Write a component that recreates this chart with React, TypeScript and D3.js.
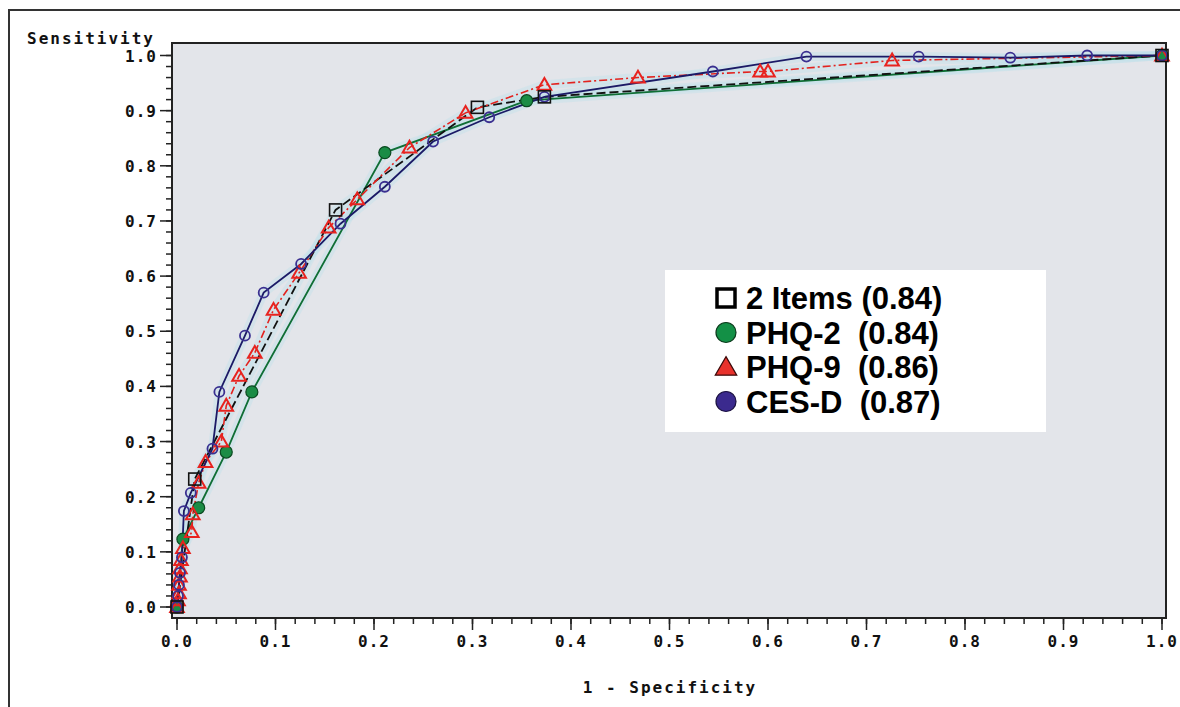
import React from "react";
import * as d3 from "d3";

const xTicks = [0, 0.1, 0.2, 0.3, 0.4, 0.5, 0.6, 0.7, 0.8, 0.9, 1.0];
const yTicks = [0, 0.1, 0.2, 0.3, 0.4, 0.5, 0.6, 0.7, 0.8, 0.9, 1.0];

const items2X = [0, 0.018, 0.161, 0.305, 0.373, 1.0];
const items2Y = [0, 0.232, 0.72, 0.906, 0.925, 1.0];

const phq2X = [0, 0.006, 0.022, 0.05, 0.076, 0.211, 0.355, 1.0];
const phq2Y = [0, 0.123, 0.18, 0.281, 0.39, 0.824, 0.918, 1.0];

const phq9X = [0, 0.001, 0.002, 0.002, 0.003, 0.003, 0.004, 0.006, 0.015, 0.016, 0.022, 0.029, 0.045, 0.05, 0.063, 0.079, 0.098, 0.124, 0.154, 0.183, 0.236, 0.293, 0.373, 0.468, 0.592, 0.6, 0.726, 1.0];
const phq9Y = [0, 0.012, 0.025, 0.04, 0.055, 0.07, 0.085, 0.107, 0.136, 0.168, 0.225, 0.263, 0.3, 0.365, 0.419, 0.461, 0.539, 0.606, 0.688, 0.739, 0.833, 0.896, 0.947, 0.96, 0.971, 0.971, 0.991, 1.0];

const cesdX = [0, 0.001, 0.002, 0.003, 0.005, 0.007, 0.014, 0.036, 0.043, 0.069, 0.088, 0.126, 0.166, 0.211, 0.26, 0.317, 0.373, 0.544, 0.639, 0.753, 0.846, 0.924, 1.0];
const cesdY = [0, 0.02, 0.04, 0.062, 0.09, 0.174, 0.207, 0.287, 0.39, 0.492, 0.57, 0.622, 0.695, 0.762, 0.844, 0.888, 0.925, 0.971, 0.998, 0.998, 0.996, 1.0, 1.0];

const legendLabels = ["2 Items (0.84)", "PHQ-2  (0.84)", "PHQ-9  (0.86)", "CES-D  (0.87)"];

const W = 1180, H = 707;
const plotL = 172, plotR = 1166, plotT = 43, plotB = 618;

export default function App() {
  const x = d3.scaleLinear().domain([0, 1]).range([177, 1162]);
  const y = d3.scaleLinear().domain([0, 1]).range([607, 55.5]);
  const line = d3.line<[number, number]>().x(d => x(d[0])).y(d => y(d[1]));
  const zip = (a: number[], b: number[]) => a.map((v, i) => [v, b[i]] as [number, number]);

  const items2 = zip(items2X, items2Y);
  const phq2 = zip(phq2X, phq2Y);
  const phq9 = zip(phq9X, phq9Y);
  const cesd = zip(cesdX, cesdY);

  const minor = d3.range(0, 1.0001, 0.02);
  const tri = d3.symbol().type(d3.symbolTriangle).size(80)();
  const triLeg = d3.symbol().type(d3.symbolTriangle).size(200)();
  const mono = "'DejaVu Sans Mono', monospace";

  return (
    <svg width={W} height={H} style={{ position: "absolute", left: 0, top: 0, background: "#fff" }}>
      <rect x={9} y={10} width={1200} height={720} fill="#fff" stroke="#333" strokeWidth={2} />
      <rect x={plotL} y={plotT} width={plotR - plotL} height={plotB - plotT} fill="#e3e5ea" stroke="#222" strokeWidth={2} />

      {/* scan halos */}
      {[items2, phq2, phq9, cesd].map((s, i) => (
        <path key={"h" + i} d={line(s) || ""} fill="none" stroke="#bfe2ea" strokeWidth={9} strokeOpacity={0.4} />
      ))}

      {/* y ticks */}
      {minor.map((v, i) => (
        <line key={"ym" + i} x1={plotL} x2={plotL - 6} y1={y(v)} y2={y(v)} stroke="#222" strokeWidth={1.5} />
      ))}
      {yTicks.map(v => (
        <g key={"y" + v}>
          <line x1={plotL} x2={plotL - 12} y1={y(v)} y2={y(v)} stroke="#222" strokeWidth={1.5} />
          <text x={157} y={y(v) + 6} textAnchor="end" fontFamily={mono} fontWeight="bold" fontSize={16} letterSpacing={1} fill="#111">
            {v.toFixed(1)}
          </text>
        </g>
      ))}
      {/* x ticks */}
      {minor.map((v, i) => (
        <line key={"xm" + i} x1={x(v)} x2={x(v)} y1={plotB} y2={plotB + 6} stroke="#222" strokeWidth={1.5} />
      ))}
      {xTicks.map(v => (
        <g key={"x" + v}>
          <line x1={x(v)} x2={x(v)} y1={plotB} y2={plotB + 12} stroke="#222" strokeWidth={1.5} />
          <text x={x(v)} y={647} textAnchor="middle" fontFamily={mono} fontWeight="bold" fontSize={16} letterSpacing={1} fill="#111">
            {v.toFixed(1)}
          </text>
        </g>
      ))}
      <text x={91} y={44} textAnchor="middle" fontFamily={mono} fontWeight="bold" fontSize={16} letterSpacing={2} fill="#111">Sensitivity</text>
      <text x={670} y={693} textAnchor="middle" fontFamily={mono} fontWeight="bold" fontSize={16} letterSpacing={2} fill="#111">1 - Specificity</text>

      {/* lines */}
      <path d={line(phq2) || ""} fill="none" stroke="#0f6e35" strokeWidth={1.8} />
      <path d={line(items2) || ""} fill="none" stroke="#111" strokeWidth={1.8} strokeDasharray="9,4" />
      <path d={line(phq9) || ""} fill="none" stroke="#e2231f" strokeWidth={1.6} strokeDasharray="8,3,2,3" />
      <path d={line(cesd) || ""} fill="none" stroke="#1b1a66" strokeWidth={1.8} />

      {/* markers */}
      {phq2.map((p, i) => (
        <circle key={"g" + i} cx={x(p[0])} cy={y(p[1])} r={6} fill="#1b8c45" stroke="#0a4a20" strokeWidth={1.2} />
      ))}
      {phq9.map((p, i) => (
        <path key={"t" + i} d={tri || ""} transform={`translate(${x(p[0])},${y(p[1]) + 1})`} fill="none" stroke="#e8231f" strokeWidth={2} />
      ))}
      {cesd.map((p, i) => (
        <circle key={"c" + i} cx={x(p[0])} cy={y(p[1])} r={5} fill="none" stroke="#3a2f90" strokeWidth={1.8} />
      ))}
      {items2.map((p, i) => (
        <rect key={"s" + i} x={x(p[0]) - 6} y={y(p[1]) - 6} width={12} height={12} fill="none" stroke="#111" strokeWidth={1.6} />
      ))}

      {/* legend */}
      <rect x={665} y={270} width={381} height={162} fill="#fff" />
      {legendLabels.map((lab, i) => {
        const cy = 298 + i * 34.5;
        const sx = 726;
        return (
          <g key={"l" + i}>
            {i === 0 && <rect x={sx - 9} y={cy - 9} width={18} height={18} fill="#fff" stroke="#000" strokeWidth={3.5} />}
            {i === 1 && <circle cx={sx} cy={cy} r={10} fill="#139046" stroke="#0a3a1a" strokeWidth={1.2} />}
            {i === 2 && <path d={triLeg || ""} transform={`translate(${sx},${cy + 2})`} fill="#e8322c" stroke="#3a0a0a" strokeWidth={1.2} />}
            {i === 3 && <circle cx={sx} cy={cy} r={10} fill="#3b2a8e" stroke="#1a1040" strokeWidth={1.2} />}
            <text x={746} y={cy + 11} fontFamily="'Liberation Sans', Arial, sans-serif" fontWeight="bold" fontSize={31} fill="#000" style={{ whiteSpace: "pre" }}>
              {lab}
            </text>
          </g>
        );
      })}
    </svg>
  );
}
